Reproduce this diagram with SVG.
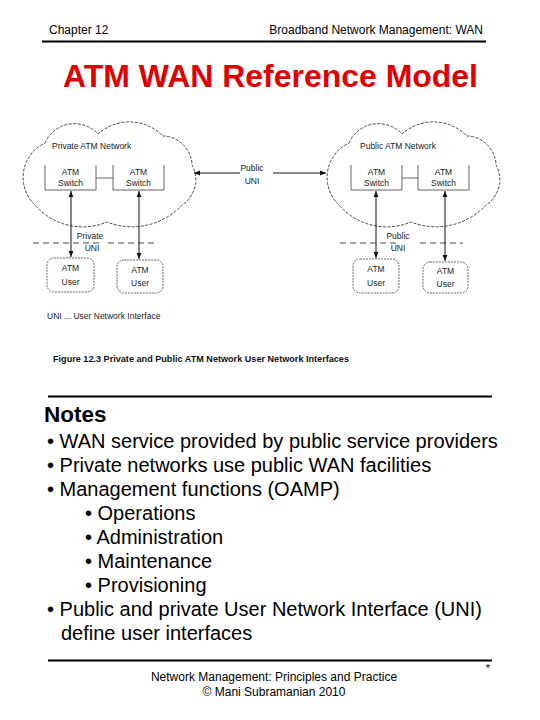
<svg xmlns="http://www.w3.org/2000/svg" width="540" height="720" viewBox="0 0 540 720">
<defs>
<marker id="ah" viewBox="0 0 10 10" refX="10" refY="5" markerWidth="6" markerHeight="6" orient="auto-start-reverse" markerUnits="userSpaceOnUse">
<path d="M0,1 L10,5 L0,9 z" fill="#111"/>
</marker>
<path id="cloudShape" d="M45,143 A32,32 0 0,1 98,134 A47,47 0 0,1 163,136 A30,30 0 0,1 192,165 A30,30 0 0,1 182,205 A68,68 0 0,1 107,222 A63,63 0 0,1 35,205 A38,38 0 0,1 45,143 Z"/>
<style>
.hd{font-family:"Liberation Sans",Arial,sans-serif;font-size:12px;fill:#000}
.dg{font-family:"Liberation Sans",Arial,sans-serif;font-size:8.5px;fill:#222}
.nt{font-family:"Liberation Sans",Arial,sans-serif;font-size:20px;fill:#000}
.cloud{fill:none;stroke:#333;stroke-width:0.9;stroke-dasharray:3,1.5}
.box{fill:none;stroke:#555;stroke-width:0.9}
.user{fill:none;stroke:#444;stroke-width:0.8;stroke-dasharray:2,1}
.ln{stroke:#111;stroke-width:1;fill:none}
.dash{stroke:#333;stroke-width:0.9;stroke-dasharray:6,4}
.rule{stroke:#000;stroke-width:2.2}
</style>
</defs>
<rect width="540" height="720" fill="#fff"/>

<g id="header">
<text class="hd" x="49" y="34">Chapter 12</text>
<text class="hd" x="483" y="34" text-anchor="end">Broadband Network Management:  WAN</text>
<line class="rule" x1="42" y1="41.5" x2="486" y2="41.5"/>
</g>

<text id="title" x="63" y="87" font-family="'Liberation Sans',Arial,sans-serif" font-size="31" font-weight="bold" fill="#e00000" textLength="415" lengthAdjust="spacingAndGlyphs">ATM WAN Reference Model</text>

<g id="private-network">
<use href="#cloudShape" class="cloud"/>
<text class="dg" x="52" y="149">Private ATM Network</text>
</g>
<g id="private-switch-1">
<path class="box" d="M45,165 V190 H96 V165"/>
<text class="dg" x="70.5" y="175" text-anchor="middle">ATM</text>
<text class="dg" x="70.5" y="186" text-anchor="middle">Switch</text>
</g>
<g id="private-switch-2">
<path class="box" d="M113,165 V190 H164 V165"/>
<text class="dg" x="138.5" y="175" text-anchor="middle">ATM</text>
<text class="dg" x="138.5" y="186" text-anchor="middle">Switch</text>
</g>
<g id="private-user-1">
<rect class="user" x="47" y="258" width="47" height="34" rx="7"/>
<text class="dg" x="70.5" y="271" text-anchor="middle">ATM</text>
<text class="dg" x="70.5" y="285" text-anchor="middle">User</text>
</g>
<g id="private-user-2">
<rect class="user" x="117" y="260" width="46" height="33" rx="7"/>
<text class="dg" x="140" y="273" text-anchor="middle">ATM</text>
<text class="dg" x="140" y="286" text-anchor="middle">User</text>
</g>

<g id="public-network">
<use href="#cloudShape" class="cloud" transform="translate(304,0)"/>
<text class="dg" x="360" y="149">Public ATM Network</text>
</g>
<g id="public-switch-1">
<path class="box" d="M351,165 V190 H402 V165"/>
<text class="dg" x="376.5" y="175" text-anchor="middle">ATM</text>
<text class="dg" x="376.5" y="186" text-anchor="middle">Switch</text>
</g>
<g id="public-switch-2">
<path class="box" d="M418,165 V190 H469 V165"/>
<text class="dg" x="443.5" y="175" text-anchor="middle">ATM</text>
<text class="dg" x="443.5" y="186" text-anchor="middle">Switch</text>
</g>
<g id="public-user-1">
<rect class="user" x="353" y="259" width="46" height="34" rx="7"/>
<text class="dg" x="376" y="272" text-anchor="middle">ATM</text>
<text class="dg" x="376" y="286" text-anchor="middle">User</text>
</g>
<g id="public-user-2">
<rect class="user" x="423" y="262" width="45" height="31" rx="7"/>
<text class="dg" x="445.5" y="274" text-anchor="middle">ATM</text>
<text class="dg" x="445.5" y="287" text-anchor="middle">User</text>
</g>

<g id="connectors">
<line class="box" x1="96" y1="178" x2="113" y2="178"/>
<line class="box" x1="402" y1="178" x2="418" y2="178"/>
<line class="ln" x1="71" y1="191" x2="71" y2="257" marker-start="url(#ah)" marker-end="url(#ah)"/>
<line class="ln" x1="139" y1="191" x2="139" y2="259" marker-start="url(#ah)" marker-end="url(#ah)"/>
<line class="ln" x1="376" y1="191" x2="376" y2="258" marker-start="url(#ah)" marker-end="url(#ah)"/>
<line class="ln" x1="445" y1="191" x2="445" y2="261" marker-start="url(#ah)" marker-end="url(#ah)"/>
<line class="ln" x1="240" y1="173" x2="194" y2="173" marker-end="url(#ah)"/>
<line class="ln" x1="273" y1="173" x2="326" y2="173" marker-end="url(#ah)"/>
<line class="dash" x1="33" y1="243" x2="99" y2="243"/>
<line class="dash" x1="108" y1="243" x2="158" y2="243"/>
<line class="dash" x1="340" y1="243" x2="398" y2="243"/>
<line class="dash" x1="420" y1="243" x2="463" y2="243"/>
</g>

<g id="labels">
<text class="dg" x="252" y="171" text-anchor="middle">Public</text>
<text class="dg" x="252" y="184" text-anchor="middle">UNI</text>
<text class="dg" x="90" y="239" text-anchor="middle">Private</text>
<text class="dg" x="92" y="251" text-anchor="middle">UNI</text>
<text class="dg" x="398" y="239" text-anchor="middle">Public</text>
<text class="dg" x="398" y="251" text-anchor="middle">UNI</text>
<text class="dg" x="47" y="319">UNI ... User Network Interface</text>
<text x="53" y="362" font-family="'Liberation Sans',Arial,sans-serif" font-size="9.5" font-weight="bold" fill="#111" textLength="296" lengthAdjust="spacingAndGlyphs">Figure 12.3   Private and Public ATM Network User Network Interfaces</text>
</g>

<g id="notes">
<line class="rule" x1="48" y1="396.5" x2="492" y2="396.5"/>
<text x="44" y="422" font-family="'Liberation Sans',Arial,sans-serif" font-size="22.5" font-weight="bold" fill="#000">Notes</text>
<text class="nt" x="47" y="448">• WAN service provided by public service providers</text>
<text class="nt" x="47" y="472">• Private networks use public WAN facilities</text>
<text class="nt" x="47" y="496">• Management functions (OAMP)</text>
<text class="nt" x="85" y="520">• Operations</text>
<text class="nt" x="85" y="544">• Administration</text>
<text class="nt" x="85" y="568">• Maintenance</text>
<text class="nt" x="85" y="592">• Provisioning</text>
<text class="nt" x="47" y="616">• Public and private User Network Interface (UNI)</text>
<text class="nt" x="61" y="640">define user interfaces</text>
</g>

<g id="footer">
<line class="rule" x1="48" y1="660.5" x2="492" y2="660.5"/>
<text x="488" y="672" font-family="'Liberation Sans',Arial,sans-serif" font-size="11" text-anchor="middle">*</text>
<text class="hd" x="274" y="681" text-anchor="middle">Network Management: Principles and Practice</text>
<text class="hd" x="274" y="696" text-anchor="middle">© Mani Subramanian 2010</text>
</g>
</svg>
